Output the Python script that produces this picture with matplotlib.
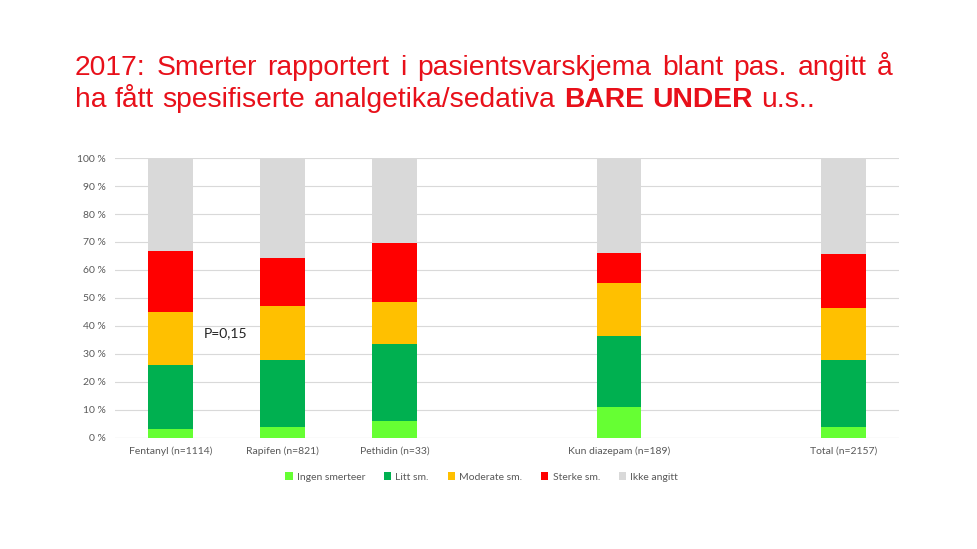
import matplotlib
matplotlib.use("Agg")
import matplotlib.pyplot as plt
import numpy as np

categories = ["Fentanyl (n=1114)", "Rapifen (n=821)", "Pethidin (n=33)", "",
              "Kun diazepam (n=189)", "", "Total (n=2157)"]
series_names = ["Ingen smerteer", "Litt sm.", "Moderate sm.", "Sterke sm.", "Ikke angitt"]
ingen = [3.2, 3.8, 6.1, np.nan, 10.9, np.nan, 4.1]
litt = [22.8, 24.0, 27.3, np.nan, 25.5, np.nan, 23.7]
moderate = [18.9, 19.2, 15.2, np.nan, 19.0, np.nan, 18.8]
sterke = [22.0, 17.3, 21.2, np.nan, 10.8, np.nan, 19.2]
ikke = [33.1, 35.7, 30.2, np.nan, 33.8, np.nan, 34.2]
colors = ["#66ff33", "#00b050", "#ffc000", "#ff0000", "#d9d9d9"]
yticks = [0, 10, 20, 30, 40, 50, 60, 70, 80, 90, 100]
ytick_labels = [f"{v} %" for v in yticks]
annotation = "P=0,15"
title_line1 = "2017: Smerter rapportert i pasientsvarskjema blant pas. angitt å"
title_line2 = [("ha", "normal"), ("fått", "normal"), ("spesifiserte", "normal"),
               ("analgetika/sedativa", "normal"), ("BARE", "bold"), ("UNDER", "bold"),
               ("u.s..", "normal")]

W, H = 977, 549
fig = plt.figure(figsize=(W / 100, H / 100), dpi=100)
fig.canvas.draw()
r = fig.canvas.get_renderer()
TCOL = "#e8101a"
TSIZE = 20.3


def place_words(words, x0, ybase, x1=None):
    txts = []
    widths = []
    for w, wt in words:
        t = fig.text(0, ybase, w, color=TCOL, fontsize=TSIZE, weight=wt,
                     family="Liberation Sans", va="baseline")
        txts.append(t)
        widths.append(t.get_window_extent(r).width)
    if x1 is None:
        gap = TSIZE * 100 / 72 * 0.30
    else:
        gap = ((x1 - x0) - sum(widths)) / (len(words) - 1)
    x = x0
    for t, w in zip(txts, widths):
        t.set_x(x / W)
        x += w + gap


place_words([(w, "normal") for w in title_line1.split(" ")], 75, 1 - 75.0 / H, x1=893)
place_words(title_line2, 75, 1 - 106.7 / H)

ax = fig.add_axes([0.1172, 0.2022, 0.8033, 0.51])
x = np.arange(len(categories))
bottom = np.zeros(len(categories))
for name, vals, c in zip(series_names, [ingen, litt, moderate, sterke, ikke], colors):
    v = np.nan_to_num(np.array(vals, dtype=float))
    ax.bar(x, v, 0.4, bottom=bottom, color=c, label=name, zorder=3)
    bottom += v

ax.set_xlim(-0.5, len(categories) - 0.5)
ax.set_ylim(0, 100)
ax.set_yticks(yticks)
ax.set_yticklabels(ytick_labels)
ax.set_xticks(x)
ax.set_xticklabels(categories)
ax.tick_params(axis="both", length=0, labelsize=7.5, labelcolor="#595959", pad=6)
for lab in ax.get_xticklabels() + ax.get_yticklabels():
    lab.set_family("Lato")
ax.yaxis.grid(True, color="#d9d9d9", linewidth=0.8, zorder=0)
for s in ax.spines.values():
    s.set_visible(False)
ax.axhline(0, color="#d9d9d9", linewidth=0.8, zorder=1)

ax.text(0.3, 37.5, annotation, fontsize=10, color="#222222", family="Lato", va="center")

leg = fig.legend(loc="center", bbox_to_anchor=(0.493, 0.131), ncol=5, frameon=False,
                 handlelength=0.7, handleheight=0.7, handletextpad=0.4,
                 columnspacing=1.8, prop={"family": "Lato", "size": 7.5})
for t in leg.get_texts():
    t.set_color("#595959")

fig.savefig("out.png", dpi=100)
